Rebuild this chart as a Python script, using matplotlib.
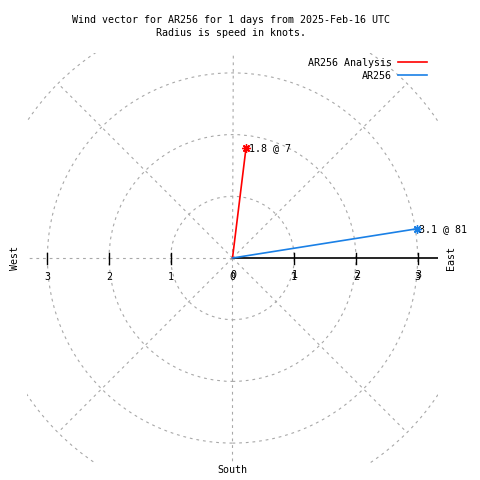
import numpy as np
import matplotlib
matplotlib.use("Agg")
import matplotlib.pyplot as plt
from matplotlib.patches import Circle, Rectangle

# ---- data ----
series_names = ["AR256 Analysis", "AR256"]
speeds = [1.8, 3.02]          # knots (radius)
directions = [7, 81]          # degrees clockwise from north
point_labels = ["1.8 @ 7", "3.1 @ 81"]
colors = ["#ff0000", "#1a80e6"]
ring_values = [1, 2, 3, 4]
spoke_angles = [0, 45, 90, 135, 180, 225, 270, 315]
tick_values = [-3, -2, -1, 0, 1, 2, 3]
title_lines = ["Wind vector for AR256 for 1 days from 2025-Feb-16 UTC",
               "Radius is speed in knots."]

# ---- layout ----
W = H = 480
CX, CY = 232.5, 258.0      # centre in pixels (from top)
S = 61.7                   # pixels per knot
LIM = 3.33                 # half-size of square plotting area

def px(x, y):
    return (x - CX) / S, (CY - y) / S

fig = plt.figure(figsize=(4.8, 4.8), dpi=100)
ax = fig.add_axes([0, 0, 1, 1])
ax.set_xlim(-CX / S, (W - CX) / S)
ax.set_ylim(-(H - CY) / S, CY / S)
ax.axis("off")

FONT = dict(family="DejaVu Sans Mono", fontsize=7.2, color="black")
grid_kw = dict(color="#a8a8a8", lw=0.8, linestyle=(0, (2.5, 3.5)))

clip = Rectangle((-LIM, -LIM), 2 * LIM, 2 * LIM, transform=ax.transData,
                 facecolor="none", edgecolor="none")
ax.add_patch(clip)

# rings
for r in ring_values:
    c = Circle((0, 0), r, fill=False, **grid_kw)
    ax.add_patch(c)
    c.set_clip_path(clip)

# spokes
for a in spoke_angles:
    t = np.deg2rad(a)
    rmax = ring_values[-1]
    if a == 0:
        continue
    if a == 180:
        ln, = ax.plot([0, -LIM], [0, 0], **grid_kw)
    else:
        ln, = ax.plot([0, rmax * np.cos(t)], [0, rmax * np.sin(t)], **grid_kw)
    ln.set_clip_path(clip)

# polar axis (solid)
ax.plot([0, LIM], [0, 0], color="black", lw=1.2, solid_capstyle="butt")
tick_h = 5.5 / S
for v in tick_values:
    if v == 0:
        continue
    ax.plot([v, v], [-tick_h, tick_h], color="black", lw=1.0)

# tick labels
for v in tick_values:
    lx, ly = v, -19.0 / S
    ax.text(lx, ly, str(abs(v)), ha="center", va="center", **FONT)
    if v >= 0:
        ax.text(lx + 1.0 / S, ly + 1.5 / S, str(abs(v)), ha="center", va="center", **FONT)

# compass labels
ax.text(*px(15, 258), "West", rotation=90, ha="center", va="center", **FONT)
ax.text(*px(451, 258), "East", rotation=90, ha="center", va="center", **FONT)
ax.text(*px(232, 470), "South", ha="center", va="center", **FONT)

# title
ax.text(*px(231, 20), title_lines[0], ha="center", va="center", **FONT)
ax.text(*px(231, 33), title_lines[1], ha="center", va="center", **FONT)

# vectors
for name, spd, d, lab, col in zip(series_names, speeds, directions, point_labels, colors):
    t = np.deg2rad(d)
    x, y = spd * np.sin(t), spd * np.cos(t)
    ax.plot([0, x], [0, y], color=col, lw=1.2)
    ax.plot([x], [y], marker=(8, 2, 0), markersize=6, markeredgewidth=1.0,
            color=col, linestyle="none")
    ax.text(x + 2.5 / S, y, lab, ha="left", va="center", **FONT)

# legend
leg_y = [63, 76]
for name, col, yy in zip(series_names, colors, leg_y):
    ax.text(*px(392, yy), name, ha="right", va="center", **FONT)
    x0, y0 = px(398, yy - 1)
    x1, _ = px(427, yy - 1)
    ax.plot([x0, x1], [y0, y0], color=col, lw=1.2)

fig.savefig("out.png", dpi=100)
